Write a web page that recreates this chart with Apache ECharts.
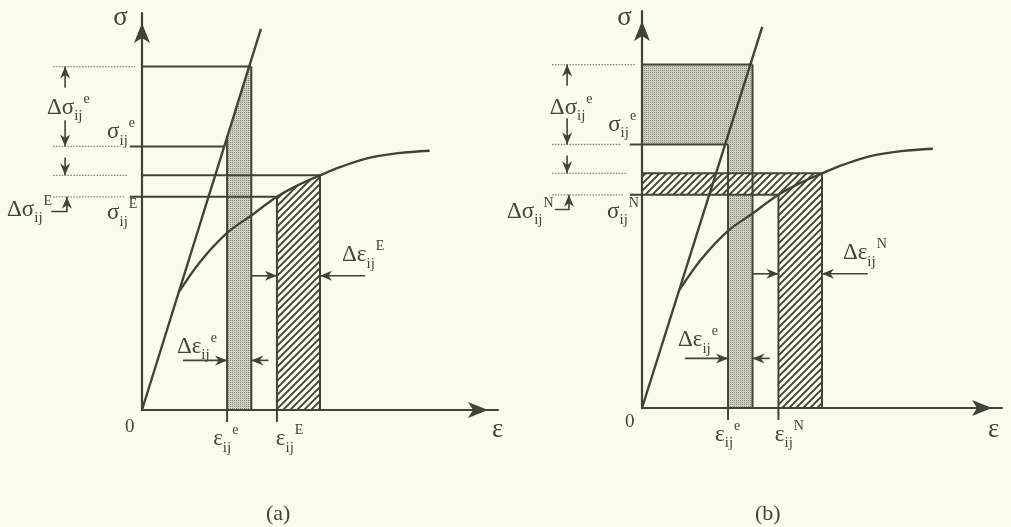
<!DOCTYPE html>
<html>
<head>
<meta charset="utf-8">
<script src="https://cdn.jsdelivr.net/npm/echarts@6/dist/echarts.min.js"></script>
<style>
  html, body { margin: 0; padding: 0; background: #fafbee; }
  #chart { width: 1011px; height: 527px; }
</style>
</head>
<body>
<div id="chart"></div>
<script>
// Strain values (ε) bounding the strips, shared by both panels
const strainElastic = 2.39;      // ε_ij^e
const strainElasticEnd = 3.07;   // ε_ij^e + Δε_ij^e
const strainPlastic = 3.79;      // ε_ij^E  /  ε_ij^N
const strainPlasticEnd = 5.0;    // ε_ij^E + Δε_ij^E  /  ε_ij^N + Δε_ij^N

// Stress levels (σ)
const stressTop = 8.65;          // σ_ij^e + Δσ_ij^e
const stressElastic = 6.64;      // σ_ij^e
const stressCurveTop = 5.91;     // σ_ij^E + Δσ_ij^E
const stressPlastic = 5.37;      // σ_ij^E  /  σ_ij^N

// Linear elastic response
const elasticLine = [[0, 0], [3.34, 9.6]];

// Elastic-plastic response from the point where it leaves the elastic line
const plasticCurve = [
  [1.03, 2.96], [1.63, 3.73], [2.39, 4.46], [3.07, 4.9], [3.79, 5.37],
  [4.4, 5.67], [5.0, 5.91], [5.6, 6.13], [6.32, 6.34], [7.2, 6.47], [8.08, 6.53]
];

// Superscript tags used in each panel
const panelTags = ['E', 'N'];
const panelCaptions = ['(a)', '(b)'];

const ink = '#424338';
const paper = '#fafbee';
const serif = '"Liberation Serif", "DejaVu Serif", serif';

const elasticSlope = elasticLine[1][1] / elasticLine[1][0];
const onElastic = s => s / elasticSlope;

// Fill textures
function stipplePattern() {
  const c = document.createElement('canvas');
  c.width = 2; c.height = 2;
  const g = c.getContext('2d');
  g.fillStyle = '#d0d0c2'; g.fillRect(0, 0, 2, 2);
  g.fillStyle = '#88887a'; g.fillRect(0, 0, 1, 1);
  return { image: c, repeat: 'repeat' };
}
function hatchPattern() {
  const s = 7;
  const c = document.createElement('canvas');
  c.width = s; c.height = s;
  const g = c.getContext('2d');
  g.fillStyle = paper; g.fillRect(0, 0, s, s);
  g.strokeStyle = ink; g.lineWidth = 1.9;
  g.beginPath();
  g.moveTo(-1, s + 1); g.lineTo(s + 1, -1);
  g.moveTo(-2, 2); g.lineTo(2, -2);
  g.moveTo(s - 2, s + 2); g.lineTo(s + 2, s - 2);
  g.stroke();
  return { image: c, repeat: 'repeat' };
}
const stipple = stipplePattern();
const hatch = hatchPattern();

const curveBetween = (a, b) => plasticCurve.filter(p => p[0] >= a && p[0] <= b);

// Shaded areas of each panel
function panelFills(k) {
  if (k === 0) {
    return [
      { fill: stipple, pts: [[strainElastic, 0], [strainElastic, strainElastic * elasticSlope],
        [onElastic(stressTop), stressTop], [strainElasticEnd, stressTop], [strainElasticEnd, 0]] },
      { fill: hatch, pts: [[strainPlastic, 0], ...curveBetween(strainPlastic, strainPlasticEnd), [strainPlasticEnd, 0]] }
    ];
  }
  return [
    { fill: stipple, pts: [[0, stressElastic], [0, stressTop], [strainElasticEnd, stressTop],
      [strainElasticEnd, 0], [strainElastic, 0], [strainElastic, stressElastic]] },
    { fill: hatch, pts: [[0, stressPlastic], [0, stressCurveTop], [strainPlasticEnd, stressCurveTop],
      [strainPlasticEnd, 0], [strainPlastic, 0], [strainPlastic, stressPlastic]] }
  ];
}

// Outline segments of each panel (horizontal levels, strip edges, axis ticks)
const tickOut = -0.34, tickDown = -0.3;
function panelSegments(k) {
  return [
    [[0, stressTop], [strainElasticEnd, stressTop]],
    [[tickOut, stressElastic], [k === 0 ? onElastic(stressElastic) : strainElastic, stressElastic]],
    [[0, stressCurveTop], [strainPlasticEnd, stressCurveTop]],
    [[tickOut, stressPlastic], [strainPlastic, stressPlastic]],
    [[strainElastic, tickDown], [strainElastic, k === 0 ? strainElastic * elasticSlope : stressElastic]],
    [[strainElasticEnd, 0], [strainElasticEnd, stressTop]],
    [[strainPlastic, tickDown], [strainPlastic, stressPlastic]],
    [[strainPlasticEnd, 0], [strainPlasticEnd, stressCurveTop]]
  ];
}

// Dotted leaders on the left of the stress axis
const leaderStart = -2.5;
const leaderEnds = [-0.2, -0.6, -0.4, -0.5];
const leaderLevels = [stressTop, stressElastic, stressCurveTop, stressPlastic];
const leaders = leaderLevels.map((s, i) => [[leaderStart, s], [leaderEnds[i], s]]);

// Dimension arrows: polylines whose last point is the arrow tip
function panelArrows(k) {
  const ax = k === 0 ? -2.16 : -2.08;
  return [
    [[ax, 8.12], [ax, stressTop]],
    [[ax, 7.3], [ax, stressElastic]],
    [[ax, 6.36], [ax, stressCurveTop]],
    [[k === 0 ? -2.55 : -2.42, 5.0], [ax + 0.05, 5.0], [ax + 0.05, stressPlastic]],
    [[k === 0 ? 1.15 : 1.19, 1.25], [strainElastic, 1.25]],
    [[3.55, 1.25], [strainElasticEnd, 1.25]],
    [[strainElasticEnd, 3.38], [strainPlastic, 3.38]],
    [[6.27, 3.38], [strainPlasticEnd, 3.38]]
  ];
}

// Symbol labels: main glyph, subscript, superscript, anchor (left / middle of main glyph)
function panelLabels(k) {
  const T = panelTags[k];
  const a = k === 0;
  return [
    { main: 'Δσ', sub: 'ij', sup: 'e', at: a ? [-2.67, 7.61] : [-2.56, 7.56] },
    { main: 'σ', sub: 'ij', sup: 'e', at: a ? [-0.98, 7.0] : [-0.94, 7.13] },
    { main: 'Δσ', sub: 'ij', sup: T, at: a ? [-3.79, 5.04] : [-3.75, 4.94] },
    { main: 'σ', sub: 'ij', sup: T, at: a ? [-0.98, 4.96] : [-0.97, 4.94] },
    { main: 'Δε', sub: 'ij', sup: 'e', at: a ? [0.98, 1.59] : [1.0, 1.71] },
    { main: 'Δε', sub: 'ij', sup: T, at: a ? [5.62, 3.9] : [5.58, 3.9] },
    { main: 'ε', sub: 'ij', sup: 'e', at: a ? [2.0, -0.74] : [2.03, -0.68] },
    { main: 'ε', sub: 'ij', sup: T, at: a ? [3.76, -0.74] : [3.69, -0.68] },
    { big: 'σ', at: a ? [-0.81, 9.87] : [-0.69, 9.82] },
    { big: 'ε', at: a ? [9.83, -0.5] : [9.61, -0.55] },
    { small: '0', at: a ? [-0.48, -0.43] : [-0.47, -0.35] }
  ];
}

const rich = {
  m: { fontSize: 23, fontFamily: serif, lineHeight: 32, verticalAlign: 'middle', fill: ink },
  s: { fontSize: 15, fontFamily: serif, lineHeight: 14, verticalAlign: 'bottom', fill: ink },
  p: { fontSize: 14, fontFamily: serif, lineHeight: 14, verticalAlign: 'top', fill: ink, padding: [0, 0, 0, 1] },
  b: { fontSize: 27, fontFamily: serif, lineHeight: 30, fill: ink },
  z: { fontSize: 19, fontFamily: serif, lineHeight: 22, fill: ink }
};

function arrowHead(tip, from, len, half) {
  const dx = tip[0] - from[0], dy = tip[1] - from[1];
  const d = Math.hypot(dx, dy) || 1;
  const ux = dx / d, uy = dy / d;
  const bx = tip[0] - ux * len, by = tip[1] - uy * len;
  const nx = tip[0] - ux * len * 0.7, ny = tip[1] - uy * len * 0.7;
  return [tip, [bx - uy * half, by + ux * half], [nx, ny], [bx + uy * half, by - ux * half]];
}

const grids = [
  { left: 142, top: 13, width: 356, height: 397 },
  { left: 642, top: 11, width: 360, height: 397 }
];

const axisBase = {
  type: 'value', min: 0, max: 10, z: 4,
  axisLabel: { show: false }, axisTick: { show: false }, splitLine: { show: false },
  axisLine: {
    show: true, onZero: false, symbol: ['none', 'arrow'], symbolSize: [12, 20], symbolOffset: [0, -10],
    lineStyle: { color: ink, width: 2.2 }
  }
};

const series = [];
[0, 1].forEach(k => {
  const axes = { xAxisIndex: k, yAxisIndex: k, coordinateSystem: 'cartesian2d' };
  const fills = panelFills(k);
  const segs = panelSegments(k);
  const arrows = panelArrows(k);
  const labels = panelLabels(k);

  series.push({
    type: 'custom', ...axes, z: 1, silent: true,
    data: fills.map((_, i) => [i, 0]),
    renderItem: (params, api) => {
      const f = fills[params.dataIndex];
      return { type: 'polygon', shape: { points: f.pts.map(p => api.coord(p)) }, style: { fill: f.fill } };
    }
  });
  series.push({
    type: 'custom', ...axes, z: 3, silent: true,
    data: leaders.map((_, i) => [i, 0]),
    renderItem: (params, api) => ({
      type: 'polyline', shape: { points: leaders[params.dataIndex].map(p => api.coord(p)) },
      style: { stroke: '#8a8a7d', lineWidth: 1.3, lineDash: [1.6, 1.3], fill: null }
    })
  });
  series.push({
    type: 'custom', ...axes, z: 3, silent: true,
    data: segs.map((_, i) => [i, 0]),
    renderItem: (params, api) => ({
      type: 'polyline', shape: { points: segs[params.dataIndex].map(p => api.coord(p)) },
      style: { stroke: ink, lineWidth: 2, fill: null }
    })
  });
  series.push({
    type: 'custom', ...axes, z: 5, silent: true,
    data: arrows.map((_, i) => [i, 0]),
    renderItem: (params, api) => {
      const pts = arrows[params.dataIndex].map(p => api.coord(p));
      const tip = pts[pts.length - 1], prev = pts[pts.length - 2];
      return {
        type: 'group', children: [
          { type: 'polyline', shape: { points: pts }, style: { stroke: ink, lineWidth: 1.6, fill: null } },
          { type: 'polygon', shape: { points: arrowHead(tip, prev, 12, 5) }, style: { fill: ink } }
        ]
      };
    }
  });
  series.push({
    type: 'line', ...axes, z: 3, silent: true, data: elasticLine,
    symbol: 'none', lineStyle: { color: ink, width: 2.4 }
  });
  series.push({
    type: 'line', ...axes, z: 3, silent: true, data: plasticCurve, smooth: 0.35,
    symbol: 'none', lineStyle: { color: ink, width: 2.3 }
  });
  series.push({
    type: 'custom', ...axes, z: 6, silent: true,
    data: labels.map(l => l.at),
    renderItem: (params, api) => {
      const l = labels[params.dataIndex];
      const p = api.coord(l.at);
      let text;
      if (l.big) text = `{b|${l.big}}`;
      else if (l.small) text = `{z|${l.small}}`;
      else text = `{m|${l.main}}{s|${l.sub}}{p|${l.sup}}`;
      return {
        type: 'text', x: p[0], y: p[1],
        style: { text, rich, align: 'left', verticalAlign: 'middle', fill: ink, fontFamily: serif }
      };
    }
  });
});

const chart = echarts.init(document.getElementById('chart'), null, { renderer: 'canvas' });
chart.setOption({
  backgroundColor: paper,
  animation: false,
  title: panelCaptions.map((t, i) => ({
    text: t, left: i === 0 ? 261 : 750, top: 498,
    textStyle: { fontFamily: serif, fontSize: 22, fontWeight: 'normal', color: ink }
  })),
  grid: grids,
  xAxis: [0, 1].map(k => ({ ...axisBase, gridIndex: k })),
  yAxis: [0, 1].map(k => ({ ...axisBase, gridIndex: k })),
  series
});
</script>
</body>
</html>
